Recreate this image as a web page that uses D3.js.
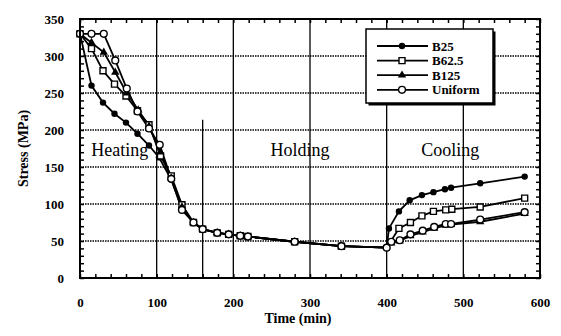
<!DOCTYPE html>
<html>
<head>
<meta charset="utf-8">
<script src="https://cdn.jsdelivr.net/npm/d3@7"></script>
<style>
  body { margin: 0; background: #fff; }
  text { font-family: "Liberation Serif", "DejaVu Serif", serif; fill: #000; }
</style>
</head>
<body>
<svg id="chart" width="561" height="336"></svg>
<script>
// time (min) and stress (MPa)
const timeB25    = [0, 15, 30, 45, 60, 75, 90, 103, 119, 133, 148, 160, 179, 194, 209, 219, 280, 341, 400, 403, 416, 430, 446, 461, 476, 484, 522, 580];
const stressB25  = [330, 260, 237, 222, 210, 195, 179, 163, 133, 95, 75, 66, 61, 59, 57, 56, 49, 43, 41, 67, 90, 105, 112, 116, 120, 122, 128, 137];

const timeB625   = [0, 15, 30, 45, 60, 75, 90, 105, 119, 133, 148, 160, 179, 194, 209, 219, 280, 341, 400, 416, 431, 446, 461, 477, 485, 522, 580];
const stressB625 = [330, 310, 280, 262, 246, 226, 207, 165, 138, 99, 75, 66, 61, 59, 57, 56, 49, 43, 41, 67, 75, 84, 90, 92, 93, 96, 108];

const timeB125   = [0, 15, 31, 46, 61, 76, 90, 105, 119, 133, 148, 160, 179, 194, 209, 219, 280, 341, 400, 406, 417, 431, 447, 462, 477, 484, 522, 580];
const stressB125 = [330, 318, 305, 278, 250, 227, 205, 170, 135, 96, 75, 66, 61, 59, 57, 56, 49, 43, 41, 47, 50, 57, 62, 67, 71, 72, 76, 87];

const timeUni    = [0, 15, 31, 46, 61, 75, 90, 104, 119, 133, 148, 160, 179, 194, 209, 219, 280, 341, 400, 406, 417, 431, 447, 462, 477, 484, 522, 580];
const stressUni  = [330, 330, 330, 294, 256, 225, 202, 180, 134, 92, 75, 66, 61, 59, 57, 56, 49, 43, 41, 49, 51, 59, 64, 69, 73, 73, 79, 89];

const seriesNames = ["B25", "B62.5", "B125", "Uniform"];
const xTicks = [0, 100, 200, 300, 400, 500, 600];
const yTicks = [0, 50, 100, 150, 200, 250, 300, 350];
const phaseLabels = ["Heating", "Holding", "Cooling"];
const phaseCenters = [52, 287, 483];   // time at label centre
const phaseStress = [165];
const heatEnd = [160, 214];

const series = [
  { name: seriesNames[0], t: timeB25, v: stressB25, marker: "dot" },
  { name: seriesNames[1], t: timeB625, v: stressB625, marker: "square" },
  { name: seriesNames[2], t: timeB125, v: stressB125, marker: "triangle" },
  { name: seriesNames[3], t: timeUni, v: stressUni, marker: "ring" }
];

const margin = { left: 80, top: 19, right: 21, bottom: 58 };
const W = 561, H = 336;
const w = W - margin.left - margin.right, h = H - margin.top - margin.bottom;

const svg = d3.select("#chart");
const g = svg.append("g").attr("transform", `translate(${margin.left},${margin.top})`);

const x = d3.scaleLinear().domain([0, 600]).range([0, w]);
const y = d3.scaleLinear().domain([0, 350]).range([h, 0]);

// grid
g.selectAll(".hgrid").data(yTicks.filter(d => d > 0 && d < 350)).enter()
  .append("line")
  .attr("x1", 0).attr("x2", w)
  .attr("y1", d => y(d)).attr("y2", d => y(d))
  .attr("stroke", "#000").attr("stroke-width", 1.3).attr("stroke-dasharray", "1.5,1");

g.selectAll(".vgrid").data(xTicks.filter(d => d > 0 && d < 600)).enter()
  .append("line")
  .attr("x1", d => x(d)).attr("x2", d => x(d))
  .attr("y1", 0).attr("y2", h)
  .attr("stroke", "#000").attr("stroke-width", 1.3);

g.append("line")
  .attr("x1", x(heatEnd[0])).attr("x2", x(heatEnd[0]))
  .attr("y1", y(0)).attr("y2", y(heatEnd[1]))
  .attr("stroke", "#000").attr("stroke-width", 1.3);

// axes with inward ticks
const tickLen = 4;
g.append("g").attr("transform", `translate(0,${h})`)
  .call(d3.axisBottom(x).tickValues(d3.range(0, 601, 20)).tickSize(-tickLen).tickFormat(""));
g.append("g")
  .call(d3.axisTop(x).tickValues(d3.range(0, 601, 20)).tickSize(-tickLen).tickFormat(""));
g.append("g")
  .call(d3.axisLeft(y).tickValues(d3.range(0, 351, 10)).tickSize(-tickLen).tickFormat(""));
g.append("g").attr("transform", `translate(${w},0)`)
  .call(d3.axisRight(y).tickValues(d3.range(0, 351, 10)).tickSize(-tickLen).tickFormat(""));
g.selectAll(".domain").remove();
g.selectAll(".tick line").attr("stroke", "#000").attr("stroke-width", 1.5);

// tick labels
g.append("g").attr("transform", `translate(0,${h})`)
  .call(d3.axisBottom(x).tickValues(xTicks).tickSize(0).tickPadding(20))
  .call(a => a.select(".domain").remove())
  .selectAll("text").attr("font-size", 13).attr("font-weight", "bold")
  .attr("font-family", "'Liberation Serif', serif");
g.append("g")
  .call(d3.axisLeft(y).tickValues(yTicks).tickSize(0).tickPadding(16))
  .call(a => a.select(".domain").remove())
  .selectAll("text").attr("font-size", 13).attr("font-weight", "bold")
  .attr("font-family", "'Liberation Serif', serif");

// phase labels
g.selectAll(".phase").data(phaseLabels).enter()
  .append("text")
  .attr("x", (d, i) => x(phaseCenters[i]))
  .attr("y", y(phaseStress[0]))
  .attr("text-anchor", "middle")
  .attr("font-size", 18)
  .text(d => d);

// lines
const line = d3.line().x(d => x(d[0])).y(d => y(d[1]));
series.forEach(s => {
  const pts = s.t.map((t, i) => [t, s.v[i]]);
  g.append("path").datum(pts)
    .attr("d", line)
    .attr("fill", "none").attr("stroke", "#000").attr("stroke-width", 1.8);
});

function drawMarker(sel, type, cx, cy) {
  if (type === "dot") {
    sel.append("circle").attr("cx", cx).attr("cy", cy).attr("r", 3.2).attr("fill", "#000");
  } else if (type === "ring") {
    sel.append("circle").attr("cx", cx).attr("cy", cy).attr("r", 3.4)
      .attr("fill", "#fff").attr("stroke", "#000").attr("stroke-width", 1.4);
  } else if (type === "square") {
    sel.append("path").attr("d", d3.symbol().type(d3.symbolSquare).size(36)())
      .attr("transform", `translate(${cx},${cy})`)
      .attr("fill", "#fff").attr("stroke", "#000").attr("stroke-width", 1.4);
  } else {
    sel.append("path").attr("d", d3.symbol().type(d3.symbolTriangle).size(30)())
      .attr("transform", `translate(${cx},${cy})`)
      .attr("fill", "#000");
  }
}

series.forEach(s => {
  const mg = g.append("g");
  s.t.forEach((t, i) => {
    if (t === 400 && s.marker !== "ring") return;
    drawMarker(mg, s.marker, x(t), y(s.v[i]));
  });
});

// frame
g.append("rect").attr("width", w).attr("height", h)
  .attr("fill", "none").attr("stroke", "#000").attr("stroke-width", 2);

// legend
const lg = svg.append("g").attr("transform", "translate(366,29)");
lg.append("rect").attr("x", 2.5).attr("y", 2.5).attr("width", 127).attr("height", 74).attr("fill", "#000");
lg.append("rect").attr("width", 127).attr("height", 74)
  .attr("fill", "#fff").attr("stroke", "#000").attr("stroke-width", 1.5);
series.forEach((s, i) => {
  const ly = 17 + i * 14.6;
  lg.append("line").attr("x1", 11).attr("x2", 62).attr("y1", ly).attr("y2", ly)
    .attr("stroke", "#000").attr("stroke-width", 1.8);
  drawMarker(lg, s.marker, 36, ly);
  lg.append("text").attr("x", 66).attr("y", ly + 4.5)
    .attr("font-size", 13).attr("font-weight", "bold").text(s.name);
});

// axis titles
svg.append("text")
  .attr("transform", `translate(28,${margin.top + h / 2}) rotate(-90)`)
  .attr("text-anchor", "middle").attr("font-size", 14).attr("font-weight", "bold")
  .text("Stress (MPa)");
svg.append("text")
  .attr("x", 298).attr("y", 323)
  .attr("text-anchor", "middle").attr("font-size", 14).attr("font-weight", "bold")
  .text("Time (min)");
</script>
</body>
</html>
